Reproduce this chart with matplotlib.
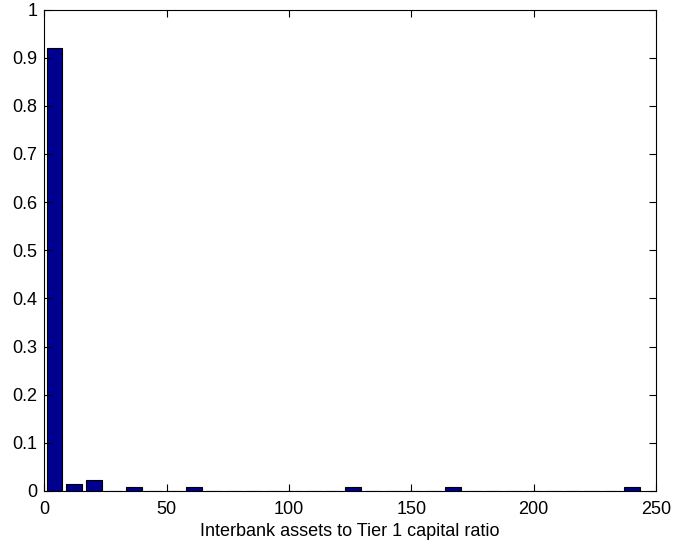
import numpy as np
import matplotlib.pyplot as plt

plt.rcParams['font.family'] = ['Liberation Sans', 'DejaVu Sans']

# histogram of 30 bins between the data min and max
data_min = 0.03
data_max = 244.4
n_bins = 30
freq = [0.92, 0.0153, 0.0229, 0, 0.0076, 0, 0, 0.0076, 0, 0,
        0, 0, 0, 0, 0, 0.0076, 0, 0, 0, 0,
        0.0076, 0, 0, 0, 0, 0, 0, 0, 0, 0.0076]

edges = np.linspace(data_min, data_max, n_bins + 1)
centers = (edges[:-1] + edges[1:]) / 2
width = (edges[1] - edges[0]) * 0.8

fig = plt.figure(figsize=(6.73, 5.43), dpi=100)
ax = fig.add_axes([0.0661, 0.0958, 0.9086, 0.8867])
ax.bar(centers, freq, width=width, color='#00008F', edgecolor='black', linewidth=0.8)

ax.set_xlim(0, 250)
ax.set_ylim(0, 1)
ax.set_xticks(np.arange(0, 251, 50))
ax.set_yticks(np.arange(0, 1.01, 0.1))
ax.set_yticklabels(['0', '0.1', '0.2', '0.3', '0.4', '0.5', '0.6', '0.7', '0.8', '0.9', '1'])
ax.tick_params(direction='in', top=True, right=True, length=5, labelsize=13)
ax.tick_params(axis='x', pad=7)
ax.tick_params(axis='y', pad=5)
ax.set_xlabel('Interbank assets to Tier 1 capital ratio', fontsize=13, labelpad=4)
for s in ax.spines.values():
    s.set_linewidth(0.8)

fig.savefig('out.png', dpi=100)
